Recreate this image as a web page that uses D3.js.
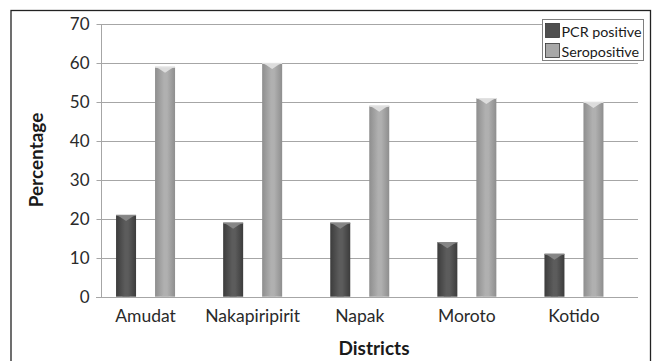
<!DOCTYPE html>
<html><head><meta charset="utf-8">
<script src="https://cdn.jsdelivr.net/npm/d3@7"></script>
<style>
html,body{margin:0;padding:0;background:#fff;}
svg{display:block;font-family:Lato,"Open Sans",sans-serif;}
</style></head>
<body><svg id="c" width="660" height="361"></svg>
<script>
const categories = ["Amudat","Nakapiripirit","Napak","Moroto","Kotido"];
const seriesNames = ["PCR positive","Seropositive"];
const pcrValues = [21,19,19,14,11];
const seroValues = [59,60,49,51,50];
const yTicks = [0,10,20,30,40,50,60,70];

const seriesColors = {"PCR positive":["#3c3c3c","#5c5c5c","#8a8a8a"],"Seropositive":["#8e8e8e","#b0b0b0","#e2e2e2"]};
const swatch = {"PCR positive":"#4f4f4f","Seropositive":"#a8a8a8"};

const svg = d3.select("#c");
const defs = svg.append("defs");
seriesNames.forEach((s,i)=>{
  const c = seriesColors[s];
  const g = defs.append("linearGradient").attr("id","g"+i).attr("x1","0").attr("x2","1").attr("y1","0").attr("y2","0");
  g.append("stop").attr("offset","0").attr("stop-color",c[0]);
  g.append("stop").attr("offset","0.45").attr("stop-color",c[1]);
  g.append("stop").attr("offset","0.6").attr("stop-color",c[1]);
  g.append("stop").attr("offset","1").attr("stop-color",c[0]);
});

// outer frame
svg.append("rect").attr("x",11).attr("y",10.5).attr("width",639.5).attr("height",360)
  .attr("fill","none").attr("stroke","#222").attr("stroke-width",1.3);

const plotL = 101, plotR = 638;
const y = d3.scaleLinear().domain([0,70]).range([296.7,24]);
const x0 = d3.scaleBand().domain(categories).range([92,627.5]);
const x1 = d3.scaleBand().domain(seriesNames)
  .range([x0.bandwidth()/2-29.5, x0.bandwidth()/2+29.5]).paddingInner(19/39);

// gridlines
svg.append("g").selectAll("line").data(yTicks).join("line")
  .attr("x1",plotL).attr("x2",plotR)
  .attr("y1",d=>Math.round(y(d))+0.5).attr("y2",d=>Math.round(y(d))+0.5)
  .attr("stroke","#a6a6a6").attr("stroke-width",1);

// y axis
const yAxis = svg.append("g").attr("transform",`translate(${plotL+0.5},0.5)`)
  .call(d3.axisLeft(y).tickValues(yTicks).tickSize(5).tickPadding(7).tickSizeOuter(0));
yAxis.select(".domain").attr("stroke","#a6a6a6").attr("d",`M0,${y(70)}V${y(0)}`);
yAxis.selectAll(".tick line").attr("stroke","#a6a6a6");
yAxis.selectAll(".tick text").attr("font-size",17).attr("fill","#2a2a2a").attr("font-family","Lato");
yAxis.selectAll(".tick").attr("transform",d=>`translate(0,${Math.round(y(d))})`);

// bars
const data = [pcrValues, seroValues];
categories.forEach((cat,ci)=>{
  seriesNames.forEach((s,si)=>{
    const v = data[si][ci];
    const bx = x0(cat)+x1(s), bw = x1.bandwidth();
    const top = y(v), bot = y(0);
    const g = svg.append("g");
    g.append("rect").attr("x",bx).attr("y",top).attr("width",bw).attr("height",bot-top)
      .attr("fill",`url(#g${si})`);
    const c = seriesColors[s];
    g.append("path").attr("d",`M${bx},${top}H${bx+bw}L${bx+bw-4},${top+2}L${bx+bw/2},${top+6}L${bx+4},${top+2}Z`)
      .attr("fill",c[2]).attr("opacity",0.9);
    g.append("line").attr("x1",bx).attr("x2",bx+bw).attr("y1",top+0.5).attr("y2",top+0.5)
      .attr("stroke",c[2]).attr("stroke-width",1);
    g.append("path").attr("d",`M${bx+bw/2-4},${bot}L${bx+bw/2},${bot-4}L${bx+bw/2+4},${bot}Z`)
      .attr("fill",c[1]).attr("opacity",0.6);
  });
});

// x axis labels
const xAxis = svg.append("g").attr("transform",`translate(0,${y(0)})`)
  .call(d3.axisBottom(x0).tickSize(0).tickPadding(13));
xAxis.select(".domain").remove();
xAxis.selectAll(".tick text").attr("font-size",17.5).attr("fill","#2a2a2a").attr("font-family","Lato");
svg.append("line").attr("x1",96).attr("x2",plotR).attr("y1",Math.round(y(0))+0.5).attr("y2",Math.round(y(0))+0.5)
  .attr("stroke","#a6a6a6");

// axis titles
svg.append("text").attr("x",374).attr("y",355).attr("text-anchor","middle")
  .attr("font-size",19).attr("font-weight","bold").attr("fill","#1a1a1a").text("Districts");
svg.append("text").attr("transform","translate(43,160) rotate(-90)").attr("text-anchor","middle")
  .attr("font-size",19).attr("font-weight","bold").attr("fill","#1a1a1a").text("Percentage");

// legend
const lg = svg.append("g");
lg.append("rect").attr("x",542.5).attr("y",19.5).attr("width",101).attr("height",41)
  .attr("fill","#fff").attr("stroke","#7f7f7f").attr("stroke-width",1);
seriesNames.forEach((s,i)=>{
  lg.append("rect").attr("x",545.5).attr("y",23.5+i*20).attr("width",14).attr("height",14)
    .attr("fill",swatch[s]).attr("stroke","#333").attr("stroke-width",0.8);
  lg.append("text").attr("x",561.5).attr("y",36.5+i*20).attr("font-size",14.3).attr("fill","#1a1a1a").text(s);
});
</script></body></html>
